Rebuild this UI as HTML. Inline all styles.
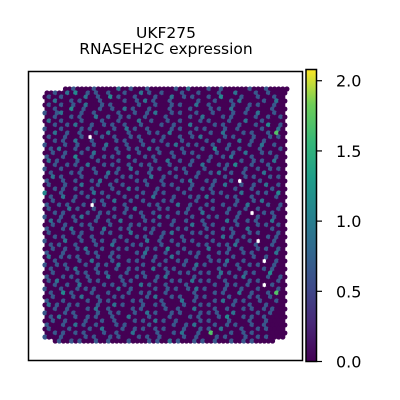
<!DOCTYPE html>
<html><head><meta charset="utf-8"><style>
html,body{margin:0;padding:0;background:#fff;}
svg{display:block;font-family:"DejaVu Sans","Liberation Sans",sans-serif;}
</style></head><body>
<svg id="chart" width="400" height="400" viewBox="0 0 400 400">
<defs><linearGradient id="vir" x1="0" y1="1" x2="0" y2="0">
<stop offset="0" stop-color="#440154"/><stop offset="0.13" stop-color="#482878"/><stop offset="0.25" stop-color="#3e4989"/><stop offset="0.38" stop-color="#31688e"/><stop offset="0.5" stop-color="#26828e"/><stop offset="0.63" stop-color="#1f9e89"/><stop offset="0.75" stop-color="#35b779"/><stop offset="0.88" stop-color="#6ece58"/><stop offset="1" stop-color="#fde725"/></linearGradient></defs>
<text x="166" y="38" font-size="15.5" text-anchor="middle">UKF275</text>
<text x="166" y="54" font-size="15.5" text-anchor="middle">RNASEH2C expression</text>
<g id="spots"></g>
<rect x="28.5" y="71.5" width="274" height="289" fill="none" stroke="#000" stroke-width="1.5"/>
<rect x="306" y="69.5" width="10.5" height="292" fill="url(#vir)" stroke="#000" stroke-width="1.5"/>
<g id="cbticks"></g>
</svg>
<script>
const cbTicks=[0.0,0.5,1.0,1.5,2.0];
const cbTickLabels=["0.0","0.5","1.0","1.5","2.0"];
const vmax=2.08;
// spot expression rows ('.'=0, a..e increasing, w=white/NaN)
const levels={'.':0,'a':0.65,'b':0.9,'c':1.1,'d':1.4,'e':1.7};
const rows=[
"     ..a....a.....b..a...a......a..b....a..a......a...a.....",
"..a..b.c..a.a..a...a...b.a..a....a...a....a...b....a..a....",
".a..a.....b..a..c.a...a....a...b..a.a...a..c....a...a...a..",
"..b...a.a....a.....a..a.b.a...a......a...a...a.b.....a..b..",
".a..a..a..b...a.a......a...a...a.a...b..a.....a...a.a...a..",
"..a...c..a...a..a..b.a...a....a....a....a.a..b...a.....a...",
"a..ab....a..a.....a...a..a.b...a.a...a...a....a..a..b...a..",
"..a...a.a...b..a..a.a...a....a.....a..b....a.a.....a..a..a.",
".b..a....a....a...a....b..a...a..a....a.a....a...b...a.....",
"..a..a.b...a..a.a..a...a....a..a...b.....a.a...a...a..c..a.",
"a...a....a.a.....a..b.a..a.....a.a...a.a....a..a.....a...b.",
"..b..a..a...a..b....a....a.a..b....a....a..b....a.a...a.e..",
".a...a...a.w..a..a...a.a.....a...a..a.b.....a.a....a...a.a.",
"..a.a..b...a.....a.a...a..a.a....a.....a..a....b..a..a.....",
"a....a..a...a..b....a...a.....a.b..a.a...a...a....a..b..a..",
".a.b...a..a...a..a..a.a..b.a.....a....a..c..a..a....a....a.",
"..a..a...a..b.....a....a....a..a..a.a.....a...a..b...a.a...",
"a...a..c...a..a.a...b...a.a....a.....a..a..a.b....a.....a..",
".b.a....a....a....a...a....a..b..a..a...a.......a..a.a..b..",
"..a..a.a..b...a.a...a..a.a....a....a..b...a.a.c...a...a....",
"a...a....a..a.....a..b....a.a...a.a....a....a....a..a..a.a.",
".a....a.a...a..b.a....a..a....a...a..a..a.b..a..a....b.....",
"..b.a....a.....a...a.a....b..a..a....a......a....a.a...a.a.",
"a...a..a...a.b...a....a.a...a....a.b...a.a...a.w....a......",
".a...a...b...a..a..a.....a...a.a....a....a..b...a..a..b..a.",
"..a.a..a...a....a...b.a....a....a..a..a.a.....a...a....a...",
"c...a....a..b.a...a.....a..a.a....a......a.a....b...a.a..c.",
".a..b..a..a....a...a..a...b....a...a.a.b....a.a...a.....a..",
"..a....a....a.a..b...a..a....a.a.....a...a.....a...a.b.....",
"a..a.a...a.w..a....a.....a.a....b..a...a...a..a..b....a..a.",
".a....b.a...a....a..a.b.....a.a....a..a..a...a...a..a....a.",
"..a.a.....a..a.a...a...a..a.....a.a...b.....a..a..w..a.a...",
"a...a..a.b...a...a...a..a...b.a.....a...a.a....a....a...a..",
".b.a...a....a..a..b.....a.a....a..a...a.....b.a..a.a...b...",
"..a..a...a.a....a....a.a....a..a....b..a.a.....a....a.a..a.",
"a...a.b....a..b...a.a...a.a.....a.a....a...a.a...b.....a...",
".a.....a.a....a.a....b....a..a.b....a.a..a....a...a.a....a.",
"..a.a...a..a......a...a.a...a....a.....a...b.a..a.....a.a..",
"a....b...a..a.a..a..a....b..a..a..a.a....a.....a..a.w...a..",
".a.a...a....a...b....a.a....a...a....a.a..a.a.b....a...a...",
"..a..a..a.b...a...a.a....a.a..c...a.....b....a..a...a.a..a.",
"a...a.....a.a...a.....a.b....a..a..a.a....a.a...a.a.....b..",
".b..a.a.a....a..a.a.....a..a...b.....a..a.....a....a..a....",
"..a.....a..b....a...a.a...a..a..a.a.....a.a.b...a....w..a..",
"a..a.a....a..a.a..b.....a...a.....a..b.a....a..a..a.a...a..",
".a...a.b....a....a..a.a...b..a.a....a.....a....a.....a.a...",
"..a.....a.a..a.a....a...a.....a..a.a..a.a..b.a...a.a...c...",
"a...a.a...a....b..a...a.a..a.b......a.....a...a.b.....a..a.",
".a.b....a..a.a.....a.a.....a...a.a..b.a.a...a.....a.a....a.",
"..a..a..b.....a.a..a...b.a...a....a......a..a.a..a...w.a...",
"a...a...a.a.a.....b..a.....a..a.a..a.b.a....a...a...a....a.",
".a..c.a....a...a....a..a.a...a......a....a.a...b..a...a.e..",
"..a....a.b...a...a.a.....a.b...a.a...a.a.....a....a.a..a...",
"a...a.....a..a.a.....a.a....a....b..a....a.b..a.a...a...a..",
".b.a..a.a....a...b.a....a..a.a....a...a.a.....a...a...a....",
"..a..a....a.b..a.....a.a.....a..a...b....a..a...a.a..a.a...",
"a....a.a.....a..a.a...a..b.a...a.a....a.a.a...b.....a..a...",
".a.b...a..a.a...a...b....a....a....a.a....a.c...a.a..a.....",
"..a..a....a...a..a....a.a..b.a..a.....a.a....a....a...a....",
"a...a..b.a..a....a.a.....a.....a..a.b....a..a.a...a..a.....",
".a....a....a..b....a..a.a..a.a....a...a.a..b....a...a.a....",
"..a.a..a.a....a..a...b.....a...a.b...a..e....a..a.a........",
"a...a.....a.a...a.a....a.a..a.....a..a....a.a....a..a.a....",
"  .a..a.a...a..a....a....a.a..b.a...a.a..a...a..a.a.....   "
];
const stops=[[0,[68,1,84]],[0.13,[72,40,120]],[0.25,[62,73,137]],[0.38,[49,104,142]],[0.5,[38,130,142]],[0.63,[31,158,137]],[0.75,[53,183,121]],[0.88,[110,206,88]],[1,[253,231,37]]];
function viridis(v){const t=Math.max(0,Math.min(1,v/vmax));for(let i=1;i<stops.length;i++){if(t<=stops[i][0]){const a=stops[i-1],b=stops[i],f=(t-a[0])/(b[0]-a[0]);const c=a[1].map((x,k)=>Math.round(x+(b[1][k]-x)*f));return `rgb(${c[0]},${c[1]},${c[2]})`;}}return 'rgb(253,231,37)';}
const NS='http://www.w3.org/2000/svg';
const g=document.getElementById('spots');
const x0=45,y0=89,dx=4.1,dy=4.0,r=2.6;
rows.forEach((row,ri)=>{for(let ci=0;ci<row.length;ci++){const ch=row[ci];if(ch===' ')continue;const c=document.createElementNS(NS,'circle');
c.setAttribute('cx',x0+ci*dx+(ri%2?dx/2:0));c.setAttribute('cy',y0+ri*dy);c.setAttribute('r',ch==='w'?1.6:r);
c.setAttribute('fill',ch==='w'?'#ffffff':viridis(levels[ch]));


g.appendChild(c);}});
const tg=document.getElementById('cbticks');
const cbTop=69.5,cbBot=361.5;
function cy(v){return cbBot-(v/vmax)*(cbBot-cbTop);}
cbTicks.forEach((v,i)=>{const y=cy(v);const l=document.createElementNS(NS,'line');
l.setAttribute('x1',317);l.setAttribute('x2',322);l.setAttribute('y1',y);l.setAttribute('y2',y);l.setAttribute('stroke','#000');l.setAttribute('stroke-width','1.2');


tg.appendChild(l);
const t=document.createElementNS(NS,'text');t.setAttribute('x',336);t.setAttribute('y',y+6);t.setAttribute('font-size','16');t.textContent=cbTickLabels[i];


tg.appendChild(t);});
</script>
</body></html>
